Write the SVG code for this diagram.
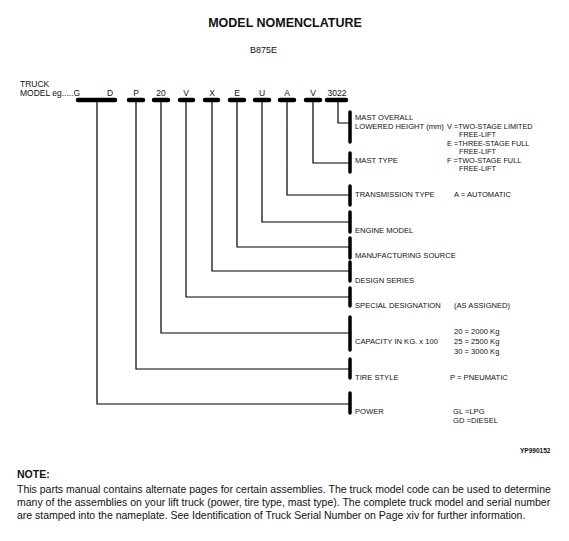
<svg xmlns="http://www.w3.org/2000/svg" width="569" height="541" viewBox="0 0 569 541">
<style>
text{font-family:"Liberation Sans",Arial,sans-serif;fill:#111}
.t{font-size:12.5px;font-weight:bold}
.s{font-size:9px}
.c{font-size:8.5px}
.l{font-size:7.6px}
.v{font-size:7.3px}
.n{font-size:10.5px}
.nb{font-size:10.5px;font-weight:bold}
.fig{font-size:6.5px;font-weight:bold}
.bar{stroke:#000;stroke-width:4.5;stroke-linecap:round;fill:none}
.vb{stroke:#000;stroke-width:3.5;stroke-linecap:round;fill:none}
.ln{stroke:#000;stroke-width:1.2;fill:none}
</style>
<rect width="569" height="541" fill="#fff"/>
<g id="title">
<text class="t" x="285" y="27" text-anchor="middle">MODEL NOMENCLATURE</text>
<text class="s" x="250" y="53">B875E</text>
</g>
<g id="code">
<text class="c" x="20" y="87">TRUCK</text>
<text class="c" x="20" y="96">MODEL eg.....G</text>
<text class="c" x="110" y="96" text-anchor="middle">D</text>
<text class="c" x="136" y="96" text-anchor="middle">P</text>
<text class="c" x="161" y="96" text-anchor="middle">20</text>
<text class="c" x="186" y="96" text-anchor="middle">V</text>
<text class="c" x="212" y="96" text-anchor="middle">X</text>
<text class="c" x="237" y="96" text-anchor="middle">E</text>
<text class="c" x="262" y="96" text-anchor="middle">U</text>
<text class="c" x="287" y="96" text-anchor="middle">A</text>
<text class="c" x="313" y="96" text-anchor="middle">V</text>
<text class="c" x="337" y="96" text-anchor="middle">3022</text>
<path class="bar" d="M78 100H115M129 100H143M154 100H168M180 100H193M205 100H218M230 100H244M255 100H269M280 100H294M306 100H320M327 100H346"/>
</g>
<g id="connectors">
<path class="ln" d="M338 100V123H350M313 100V163H350M287 100V195H350M262 100V222H350M237 100V247H350M212 100V271H350M186 100V297H350M161 100V333H350M136 100V369H350M97 100V404H350"/>
</g>
<g id="mast-height">
<path class="vb" d="M350 112V142"/>
<text class="l" x="355" y="120">MAST OVERALL</text>
<text class="l" x="355" y="129">LOWERED HEIGHT (mm)</text>
<text class="v" x="447" y="129">V =TWO-STAGE LIMITED</text>
<text class="v" x="459" y="137">FREE-LIFT</text>
<text class="v" x="447" y="145.5">E =THREE-STAGE FULL</text>
<text class="v" x="459" y="153.5">FREE-LIFT</text>
</g>
<g id="mast-type">
<path class="vb" d="M350 153V172"/>
<text class="l" x="355" y="163">MAST TYPE</text>
<text class="v" x="447" y="163">F =TWO-STAGE FULL</text>
<text class="v" x="459" y="171">FREE-LIFT</text>
</g>
<g id="transmission">
<path class="vb" d="M350 186V205"/>
<text class="l" x="355" y="197">TRANSMISSION TYPE</text>
<text class="l" x="454" y="197">A = AUTOMATIC</text>
</g>
<g id="engine">
<path class="vb" d="M350 212V232"/>
<text class="l" x="355" y="233">ENGINE MODEL</text>
</g>
<g id="manufacturing">
<path class="vb" d="M350 238V258"/>
<text class="l" x="355" y="258">MANUFACTURING SOURCE</text>
</g>
<g id="design">
<path class="vb" d="M350 262V281"/>
<text class="l" x="355" y="283">DESIGN SERIES</text>
</g>
<g id="special">
<path class="vb" d="M350 288V306"/>
<text class="l" x="355" y="308">SPECIAL DESIGNATION</text>
<text class="l" x="454" y="308">(AS ASSIGNED)</text>
</g>
<g id="capacity">
<path class="vb" d="M350 317V350"/>
<text class="l" x="355" y="344">CAPACITY IN KG. x 100</text>
<text class="l" x="454" y="334">20 = 2000 Kg</text>
<text class="l" x="454" y="344">25 = 2500 Kg</text>
<text class="l" x="454" y="354">30 = 3000 Kg</text>
</g>
<g id="tire">
<path class="vb" d="M350 359V378"/>
<text class="l" x="355" y="380">TIRE STYLE</text>
<text class="l" x="450" y="380">P = PNEUMATIC</text>
</g>
<g id="power">
<path class="vb" d="M350 393V413"/>
<text class="l" x="355" y="414">POWER</text>
<text class="l" x="453" y="414">GL =LPG</text>
<text class="l" x="453" y="423">GD =DIESEL</text>
</g>
<text class="fig" x="520" y="453">YP990152</text>
<g id="note">
<text class="nb" x="17" y="478">NOTE:</text>
<text class="n" x="17" y="493">This parts manual contains alternate pages for certain assemblies. The truck model code can be used to determine</text>
<text class="n" x="17" y="506">many of the assemblies on your lift truck (power, tire type, mast type). The complete truck model and serial number</text>
<text class="n" x="17" y="519">are stamped into the nameplate. See Identification of Truck Serial Number on Page xiv for further information.</text>
</g>
</svg>
